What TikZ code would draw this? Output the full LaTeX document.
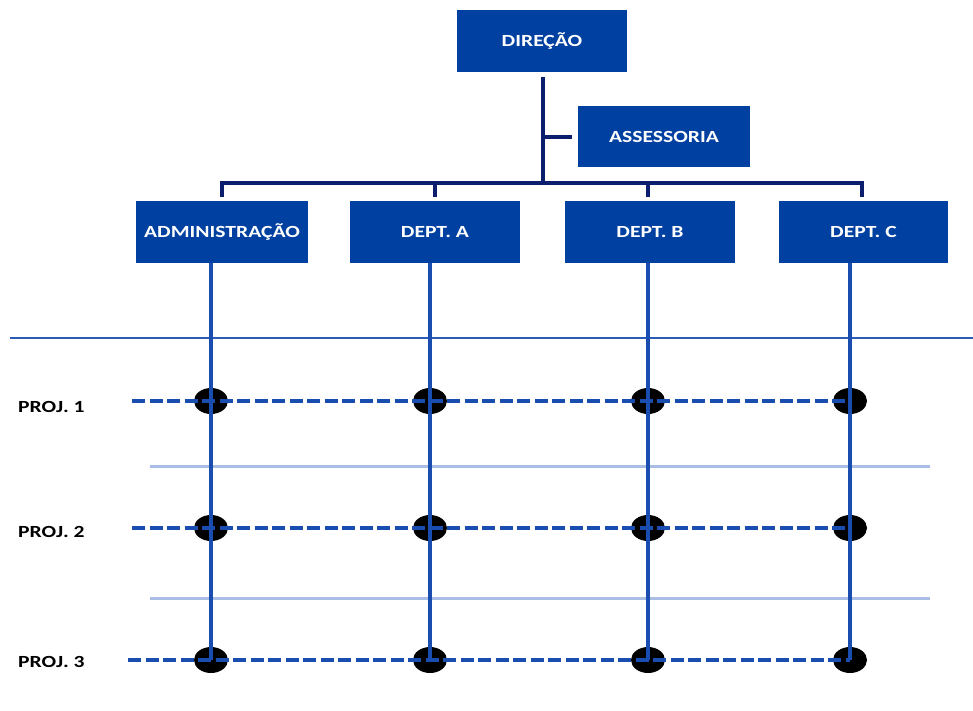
\documentclass[tikz,border=0pt]{standalone}
\usepackage{fontspec}
\setmainfont{Carlito}
\newfontfamily\labelfont[FakeStretch=1.27]{Carlito}
\usetikzlibrary{calc}
\definecolor{boxblue}{HTML}{0040A0}
\definecolor{busnavy}{HTML}{0C1F6E}
\definecolor{linkblue}{HTML}{1A4DB0}
\definecolor{paleblue}{HTML}{AABDE4}
\definecolor{ruleblue}{HTML}{2A5DB8}
\begin{document}
\begin{tikzpicture}[x=1pt,y=-1pt,
  unitbox/.style={fill=boxblue, draw=none, minimum height=62pt, inner sep=0pt,
    text=white, font=\labelfont\fontsize{17}{20}\selectfont\bfseries},
  projlabel/.style={anchor=west, inner sep=0pt, font=\labelfont\fontsize{17}{20}\selectfont\bfseries},
  bus/.style={draw=busnavy, line width=4pt},
  deptline/.style={draw=linkblue, line width=4.8pt},
  projline/.style={draw=linkblue, line width=4.3pt, dash pattern=on 13pt off 4.5pt},
  paleline/.style={draw=paleblue, line width=3pt},
  cross/.style={fill=black, draw=none}]
\useasboundingbox (0,0) rectangle (973,711);

% organisation boxes
\node[unitbox, minimum width=170pt] (dir) at (542,41) {DIREÇÃO};
\node[unitbox, minimum width=172pt, minimum height=61pt] (ass) at (664,137) {ASSESSORIA};
\node[unitbox, minimum width=172pt] (adm) at (222,232) {ADMINISTRAÇÃO};
\node[unitbox, minimum width=170pt] (da) at (435,232) {DEPT. A};
\node[unitbox, minimum width=170pt] (db) at (650,232) {DEPT. B};
\node[unitbox, minimum width=169pt] (dc) at (863.5,232) {DEPT. C};

% hierarchy connectors
\coordinate (trunk) at (543,183);
\draw[bus] (dir.south -| trunk) ++(0,5) -- (trunk);
\draw[bus] (trunk |- ass.west) -- ($(ass.west)+(-6,0)$);
\draw[bus] ($(adm.north)+(0,-4)$) -- ++(0,-14) -| ($(dc.north)+(-1.5,-4)$);
\draw[bus] ($(da.north)+(0,-4)$) -- ++(0,-14);
\draw[bus] ($(db.north)+(-2,-4)$) -- ++(0,-14);

% separator
\draw[ruleblue, line width=2pt] (10,338) -- (973,338);

% pale dividers between projects
\draw[paleline] (150,466) -- (930,466);
\draw[paleline] (150,598) -- (930,598);

% project labels and crossing points
\foreach \r/\y/\ly in {1/401/407, 2/528/532, 3/660/662} {
  \node[projlabel] (p\r) at (18,\ly) {PROJ. \r};
  \foreach \c/\x in {a/211, b/430, c/648, d/850} {
    \coordinate (x\r\c) at (\x,\y);
    \fill[cross] (x\r\c) ellipse [x radius=17pt, y radius=13pt];
  }
}

% department lines
\draw[deptline] (adm.south -| x3a) -- (x3a);
\draw[deptline] (da.south -| x3b) -- (x3b);
\draw[deptline] (db.south -| x3c) -- (x3c);
\draw[deptline] (dc.south -| x3d) -- (x3d);

% project lines
\draw[projline] (132,401) -- (x1d);
\draw[projline] (132,528) -- (x2d);
\draw[projline] (128,660) -- (x3d);
\end{tikzpicture}
\end{document}
